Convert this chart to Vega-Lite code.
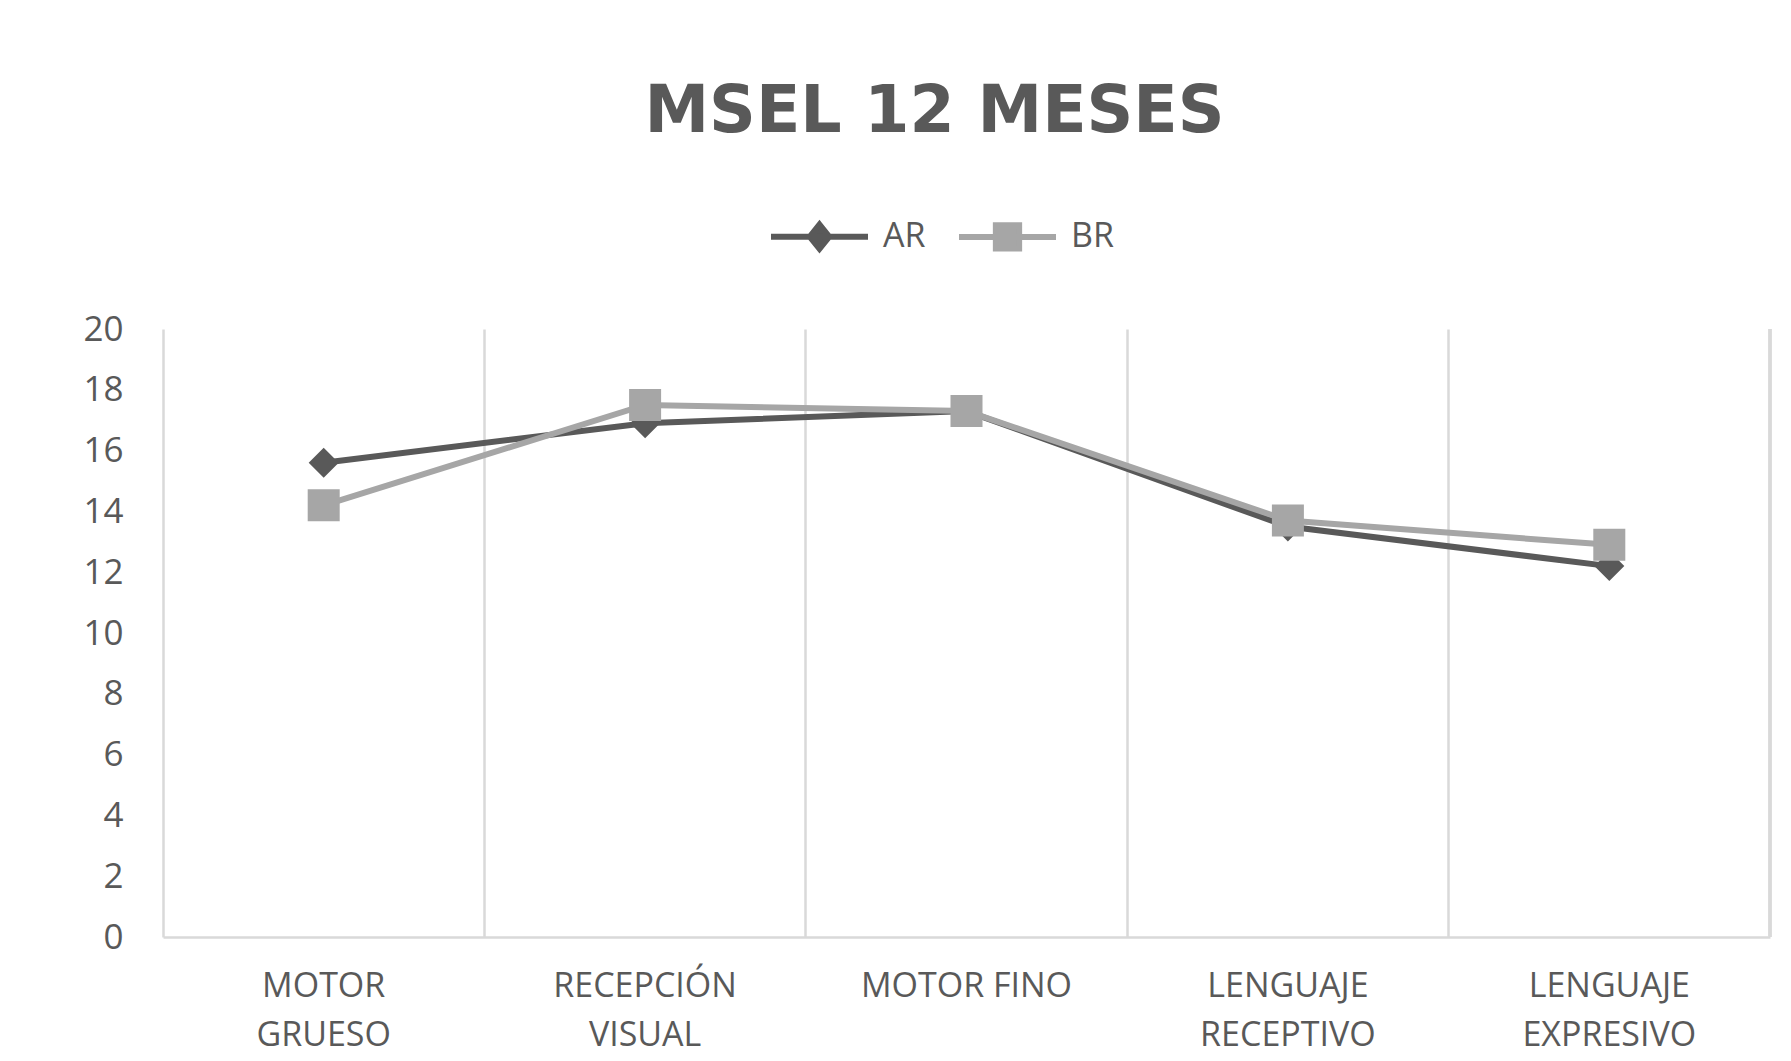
{
  "$schema": "https://vega.github.io/schema/vega-lite/v6.json",
  "width": 1607,
  "height": 608,
  "autosize": {"type": "none"},
  "padding": {"left": 163, "top": 329, "right": 21, "bottom": 124},
  "background": "white",
  "config": {"view": {"stroke": null}},
  "title": {
    "text": "MSEL 12 MESES",
    "font": "DejaVu Sans",
    "fontSize": 65,
    "fontWeight": "bold",
    "color": "#595959",
    "anchor": "middle",
    "frame": "group",
    "baseline": "alphabetic",
    "offset": -12,
    "dx": -32
  },
  "data": {
    "values": [
      {"area": "MOTOR GRUESO", "grupo": "AR", "valor": 15.6},
      {"area": "RECEPCIÓN VISUAL", "grupo": "AR", "valor": 16.9},
      {"area": "MOTOR FINO", "grupo": "AR", "valor": 17.3},
      {"area": "LENGUAJE RECEPTIVO", "grupo": "AR", "valor": 13.5},
      {"area": "LENGUAJE EXPRESIVO", "grupo": "AR", "valor": 12.2},
      {"area": "MOTOR GRUESO", "grupo": "BR", "valor": 14.2},
      {"area": "RECEPCIÓN VISUAL", "grupo": "BR", "valor": 17.5},
      {"area": "MOTOR FINO", "grupo": "BR", "valor": 17.3},
      {"area": "LENGUAJE RECEPTIVO", "grupo": "BR", "valor": 13.7},
      {"area": "LENGUAJE EXPRESIVO", "grupo": "BR", "valor": 12.9}
    ]
  },
  "encoding": {
    "x": {
      "field": "area",
      "type": "nominal",
      "sort": null,
      "scale": {"type": "band", "paddingInner": 0, "paddingOuter": 0, "domain": ["MOTOR GRUESO", "RECEPCIÓN VISUAL", "MOTOR FINO", "LENGUAJE RECEPTIVO", "LENGUAJE EXPRESIVO"]},
      "axis": {
        "title": null,
        "labelAngle": 0,
        "labelFont": "Open Sans",
        "labelFontSize": 34,
        "labelColor": "#595959",
        "labelBaseline": "top",
        "labelLineHeight": 49,
        "labelPadding": 32,
        "labelLimit": 0,
        "labelExpr": "datum.label == 'MOTOR FINO' ? datum.label : split(datum.label, ' ')",
        "ticks": false,
        "domain": true,
        "domainColor": "#d9d9d9",
        "domainWidth": 2.5,
        "grid": true,
        "gridColor": "#d9d9d9",
        "gridWidth": 2.5,
        "bandPosition": 0
      }
    },
    "y": {
      "field": "valor",
      "type": "quantitative",
      "scale": {"domain": [0, 20], "nice": false},
      "axis": {
        "title": null,
        "values": [0, 2, 4, 6, 8, 10, 12, 14, 16, 18, 20],
        "labelFont": "Open Sans",
        "labelFontSize": 35,
        "labelColor": "#595959",
        "labelPadding": 40,
        "ticks": false,
        "domain": false,
        "grid": false
      }
    },
    "color": {
      "field": "grupo",
      "type": "nominal",
      "scale": {"domain": ["AR", "BR"], "range": ["#595959", "#a6a6a6"]},
      "legend": {
        "title": null,
        "orient": "none",
        "direction": "horizontal",
        "legendX": 605,
        "legendY": -144,
        "padding": 0,
        "symbolSize": 9409,
        "symbolStrokeWidth": 6,
        "labelFont": "Open Sans",
        "labelFontSize": 34,
        "labelColor": "#595959",
        "labelOffset": 12,
        "columnPadding": 21,
        "encode": {
          "symbols": {
            "update": {
              "shape": {"signal": "datum.value === 'AR' ? 'M-1,0L1,0M0,-0.25L0.2,0L0,0.25L-0.2,0Z' : 'M-1,0L1,0M-0.24,-0.24L0.24,-0.24L0.24,0.24L-0.24,0.24Z'"},
              "fill": {"signal": "datum.value === 'AR' ? '#595959' : '#a6a6a6'"},
              "stroke": {"signal": "datum.value === 'AR' ? '#595959' : '#a6a6a6'"},
              "strokeWidth": {"value": 6},
              "size": {"value": 9409}
            }
          }
        }
      }
    }
  },
  "layer": [
    {
      "mark": {"type": "rule", "color": "#d9d9d9", "strokeWidth": 2.5},
      "encoding": {
        "x": {"datum": "LENGUAJE EXPRESIVO", "type": "nominal", "bandPosition": 1},
        "y": null,
        "color": null
      }
    },
    {
      "transform": [{"filter": "datum.grupo === 'AR'"}],
      "mark": {"type": "line", "strokeWidth": 6}
    },
    {
      "transform": [{"filter": "datum.grupo === 'AR'"}],
      "mark": {"type": "point", "filled": true, "opacity": 1, "shape": "diamond", "size": 900}
    },
    {
      "transform": [{"filter": "datum.grupo === 'BR'"}],
      "mark": {"type": "line", "strokeWidth": 6}
    },
    {
      "transform": [{"filter": "datum.grupo === 'BR'"}],
      "mark": {"type": "point", "filled": true, "opacity": 1, "shape": "square", "size": 1024}
    }
  ]
}
